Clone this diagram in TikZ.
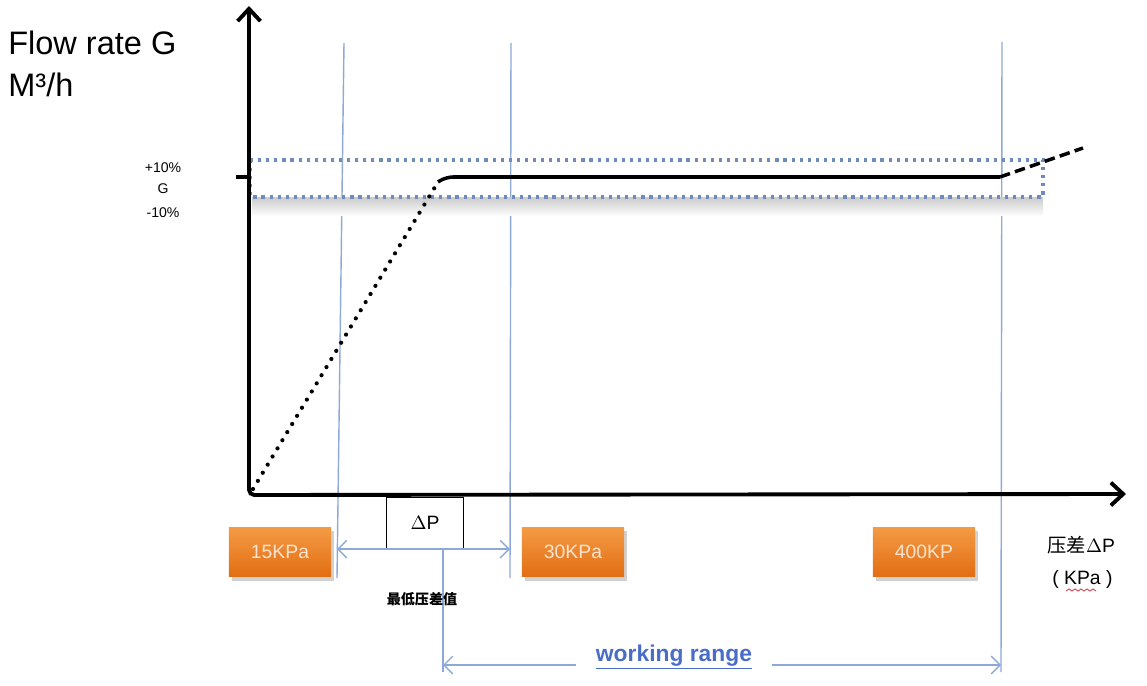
\documentclass[tikz,border=0pt]{standalone}
\usepackage{fontspec}
\setmainfont{Liberation Sans}
\newfontfamily\cjk{Noto Sans CJK SC}
\usepackage{xcolor}
\usetikzlibrary{arrows.meta, positioning, calc}
\definecolor{axisdraw}{HTML}{000000}
\definecolor{guidedraw}{HTML}{8EA9D8}
\definecolor{banddraw}{HTML}{5677B0}
\definecolor{orangetop}{HTML}{F49B45}
\definecolor{orangebot}{HTML}{E26D12}
\definecolor{orangetext}{HTML}{FCE4D0}
\definecolor{linkblue}{HTML}{4A6CC9}
\definecolor{wavyred}{HTML}{D04050}
\tikzset{
  axis/.style={line width=2.2pt, draw=axisdraw, {Straight Barb[length=7pt, width=13pt, line width=2.2pt]}-{Straight Barb[length=7pt, width=13pt, line width=2.2pt]}},
  guide/.style={line width=0.8pt, draw=guidedraw},
  guidearr/.style={guide, {Straight Barb[length=5pt, width=10pt, line width=0.8pt]}-{Straight Barb[length=5pt, width=10pt, line width=0.8pt]}},
  guidetip/.style={guide, -{Straight Barb[length=5pt, width=10pt, line width=0.8pt]}},
  band/.style={draw=banddraw!85, line width=1.8pt, dash pattern=on 1.8pt off 2.8pt},
  dotline/.style={line width=2.4pt, line cap=round, dash pattern=on 0pt off 5.4pt},
  flat/.style={line width=2pt},
  dashline/.style={line width=2pt, dash pattern=on 6pt off 3pt},
  tag/.style={rectangle, top color=orangetop, bottom color=orangebot, text=orangetext, font=\fontsize{11}{13}\selectfont, minimum width=2.05cm, minimum height=1.0cm, inner sep=0pt},
  shadowbox/.style={rectangle, fill=black!18, minimum width=2.05cm, minimum height=1.0cm},
  lbl/.style={font=\fontsize{8}{9}\selectfont, inner sep=1pt},
  big/.style={font=\fontsize{18.5}{22}\selectfont, anchor=west, inner sep=0pt},
}
\begin{document}
\begin{tikzpicture}[x=0.02cm, y=-0.02cm]
  \useasboundingbox (0,0) rectangle (1147,686);
  % guide lines
  \coordinate (g1t) at (344,43);  \coordinate (g1b) at (337,578);
  \coordinate (g2t) at (511,43);  \coordinate (g2b) at (510,578);
  \coordinate (g3t) at (1002,42); \coordinate (g3b) at (1001,672);
  \draw[guide] (g1t) -- (g1b);
  \draw[guide] (g2t) -- (g2b);
  \draw[guide] (g3t) -- (g3b);
  % tolerance band with its shadow
  \shade[top color=black!20, bottom color=white] (252,198) rectangle (1043,216);
  \draw[band] (250,160) rectangle (1043,197);
  % axes
  \coordinate (O) at (249,495);
  \coordinate (ytop) at (249,6);
  \coordinate (xend) at (1126,494);
  \draw[axis, rounded corners=3pt] (ytop) -- (O) -- (xend);
  \draw[line width=2pt] (236,177) -- (249,177);
  % flow curve
  \coordinate (c0) at (253,489);
  \coordinate (c1) at (438,182);
  \coordinate (c2) at (446,177);
  \coordinate (c3) at (1000,177);
  \coordinate (c4) at (1083,148);
  \draw[dotline] (c0) -- (c1);
  \draw[flat, rounded corners=4pt] (c1) -- (c2) -- (c3);
  \draw[dashline] (c3) -- (c4);
  % axis texts
  \node[big] (ylab1) at (8,43) {Flow rate G};
  \node[big] (ylab2) at (8,85) {M³/h};
  \node[lbl] (tolup) at (163,168) {+10\%};
  \node[lbl] (tolG) at (163,189) {G};
  \node[lbl] (tollo) at (163,213) {-10\%};
  % pressure tags
  \node[shadowbox] at (283,556) {};
  \node[tag] (p15) at (280,552) {15KPa};
  \node[shadowbox] at (576,556) {};
  \node[tag] (p30) at (573,552) {30KPa};
  \node[shadowbox] at (927,556) {};
  \node[tag] (p400) at (924,552) {400KP};
  % minimum delta p
  \node[draw, line width=0.8pt, fill=white, minimum width=1.55cm, minimum height=1.02cm, font=\fontsize{11}{13}\selectfont] (dp) at (425,523) {$\Delta$P};
  \draw[guidearr] (g1b |- dp.south) -- (g2b |- dp.south);
  \coordinate (g4b) at (443,672);
  \draw[guide] (dp.south -| g4b) -- (g4b);
  \node[lbl, font=\cjk\bfseries\fontsize{8}{9}\selectfont] (dpmin) at (422,599) {最低压差值};
  % x axis label
  \node[font=\fontsize{11}{13}\selectfont, anchor=west, inner sep=0pt] (xlab1) at (1047,545) {{\cjk 压差}$\Delta$P};
  \node[font=\fontsize{11}{13}\selectfont, anchor=west, inner sep=0pt] (xlab2) at (1052,579) {( KPa )};
  \draw[wavyred, line width=0.5pt] (1066,591) -- (1069,589) -- (1072,591) -- (1075,589) -- (1078,591) -- (1081,589) -- (1084,591) -- (1087,589) -- (1090,591) -- (1093,589) -- (1096,591);
  % working range
  \node[text=linkblue, font=\bfseries\fontsize{13}{15}\selectfont, inner sep=0pt] (wr) at (674,657) {\underline{working range}};
  \coordinate (wrL) at (443,665);
  \coordinate (wrR) at (1001,665);
  \draw[guidetip] ([xshift=-0.4cm]wrL -| wr.west) -- (wrL);
  \draw[guidetip] ([xshift=0.4cm]wrR -| wr.east) -- (wrR);
\end{tikzpicture}
\end{document}
